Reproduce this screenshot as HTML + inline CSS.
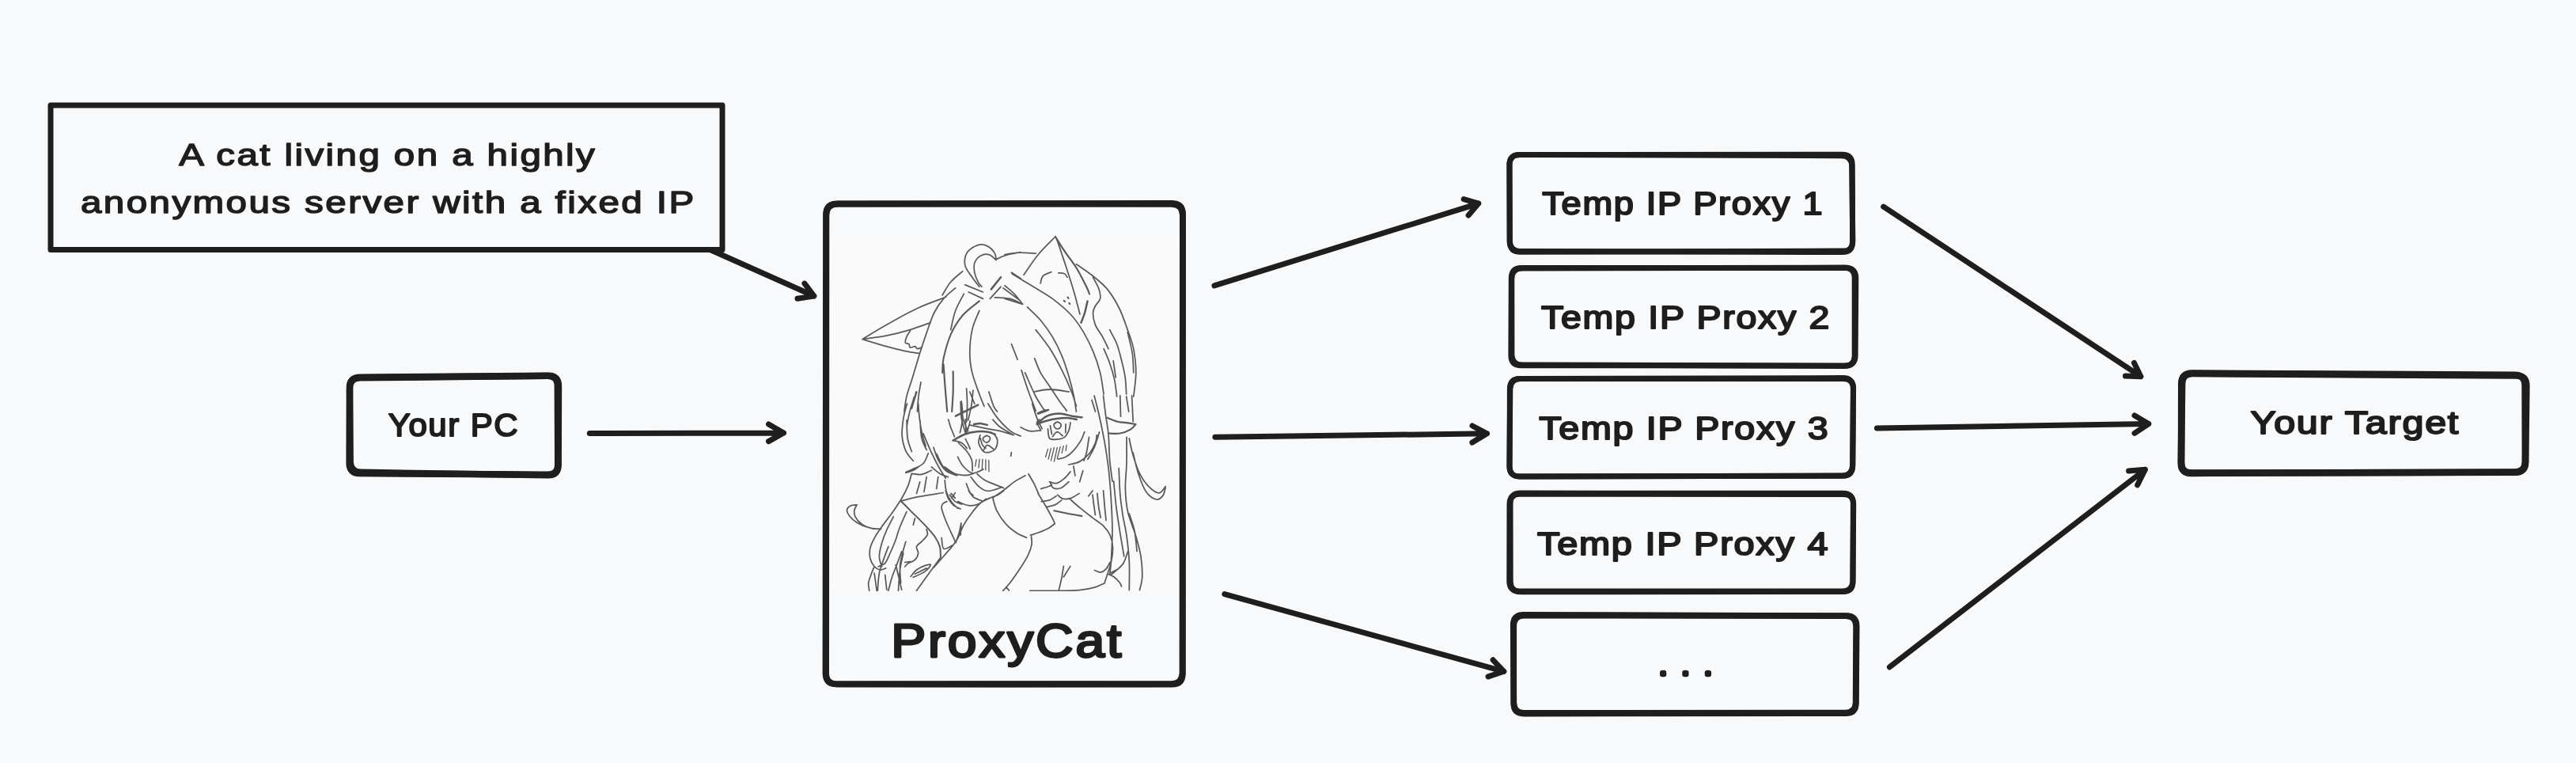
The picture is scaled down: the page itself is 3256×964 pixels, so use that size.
<!DOCTYPE html>
<html lang="en">
<head>
<meta charset="utf-8">
<title>ProxyCat diagram</title>
<style>
html,body{margin:0;padding:0;background:#f8f9fa;overflow:hidden}
svg{display:block;will-change:transform}
text{font-family:"Liberation Sans","DejaVu Sans",sans-serif;fill:#1e1e1e}
</style>
</head>
<body>
<svg width="3256" height="964" viewBox="0 0 3256 964">
<rect x="0" y="0" width="3256" height="964" fill="#f8f9fa"/>
<path d="M64 133L913 133L913 315.5L64 315.5Z" fill="none" stroke="#1e1e1e" stroke-width="7" stroke-linejoin="round"/>
<text x="226.2" y="209.1" font-size="39" font-weight="normal" textLength="528" lengthAdjust="spacingAndGlyphs" letter-spacing="2" stroke="#1e1e1e" stroke-width="1.5" stroke-linejoin="round">A cat living on a highly</text>
<text x="102" y="268.6" font-size="39" font-weight="normal" textLength="777.5" lengthAdjust="spacingAndGlyphs" letter-spacing="2" stroke="#1e1e1e" stroke-width="1.5" stroke-linejoin="round">anonymous server with a fixed IP</text>
<path d="M898.7 316Q963.8 345 1028.9 374M1016.9 358.1L1028.9 374L1008 377.2" fill="none" stroke="#1e1e1e" stroke-width="7" stroke-linejoin="round" stroke-linecap="round"/>
<path d="M441.9 490.4Q442 477.4 455 477.3L691.7 474.9Q704.7 474.8 704.8 487.8L705.2 586.7Q705.3 599.7 692.3 599.6L454.5 598.1Q441.5 598 441.6 585Z" fill="none" stroke="#1e1e1e" stroke-width="8.4" stroke-linejoin="round" stroke-linecap="round"/>
<path d="M442.1 489.8Q442 476.8 455 476.7L693 474.7Q706 474.5 706 487.5L705.7 587.6Q705.7 600.6 692.7 600.4L455.8 596.8Q442.8 596.6 442.7 583.6Z" fill="none" stroke="#1e1e1e" stroke-width="8.4" stroke-linejoin="round" stroke-linecap="round"/>
<text x="490.8" y="551" font-size="41" font-weight="normal" textLength="165.4" lengthAdjust="spacingAndGlyphs" letter-spacing="1.5" stroke="#1e1e1e" stroke-width="2.0" stroke-linejoin="round">Your PC</text>
<path d="M745.3 547.5Q867.9 547.3 990.5 547M971.5 535.9L990.5 547L971.5 557.6" fill="none" stroke="#1e1e1e" stroke-width="7" stroke-linejoin="round" stroke-linecap="round"/>
<rect x="1047" y="296" width="445" height="451" fill="#fafafa"/>
<defs><clipPath id="catclip"><rect x="1047" y="296" width="445" height="451"/></clipPath></defs>
<g fill="none" stroke="#5a5a5a" stroke-linecap="round" stroke-linejoin="round" clip-path="url(#catclip)">
<path stroke-width="1.35" d="M1234.1 580.7 L1232.7 589M1238 580.1 L1237 590.9M1241.9 580.1 L1241.3 592.9M1245.9 580.7 L1245.9 593.9M1249.8 581.5 L1250 595.9M1324.5 567.4 L1321.6 577.2M1328.4 566.4 L1325.1 580.1M1332.4 565.4 L1328.4 582.1M1336.3 565.4 L1332.4 583.1M1340.2 564.4 L1336.3 579.2M1344.2 563.4 L1342.2 572.3M1348.1 562.4 L1347.1 569.3"/>
<path stroke-width="1.76" d="M1237.9 362.3C1236.3 360.3 1231.8 354.8 1228.8 350.3C1225.8 345.8 1220.8 340.5 1219.8 335.2C1218.8 329.9 1220 322.9 1222.8 318.6C1225.5 314.4 1232.1 310.8 1236.3 309.6C1240.6 308.3 1244.9 309.3 1248.4 311.1C1251.9 312.9 1255.7 317.2 1257.4 320.1C1259.2 323.1 1258.7 327.2 1259 328.6M1259 328.6C1257.4 327.4 1253.2 322.6 1249.9 321.7C1246.6 320.7 1242.4 321.4 1239.4 323.2C1236.3 324.9 1233.1 328.7 1231.8 332.2C1230.6 335.7 1231.1 340.2 1231.8 344.3C1232.6 348.3 1234.8 353.3 1236.3 356.3C1237.9 359.3 1240.1 361.3 1240.9 362.3M1195.6 375.3C1189.6 377.7 1172 383.6 1159.5 389.5C1146.9 395.4 1131.8 404 1120.3 410.6C1108.7 417.1 1095.2 425.6 1090.1 428.7M1090.1 428.7C1095.2 430.2 1111.2 435.2 1120.3 437.7C1129.3 440.2 1137.4 442.2 1144.4 443.7C1151.4 445.2 1159.5 446.2 1162.5 446.7M1093.2 428.1C1097.7 427.4 1110.7 426.1 1120.3 424.1C1129.8 422.2 1141.1 419.4 1150.4 416.6C1159.7 413.8 1171.8 409.1 1176.1 407.6M1150.4 418.1C1149.7 419.4 1146.9 423.1 1145.9 425.6C1144.9 428.2 1143.9 431.7 1144.4 433.2C1144.9 434.7 1147.9 433.7 1148.9 434.7C1149.9 435.7 1149.2 438.7 1150.4 439.2C1151.7 439.7 1155 437.5 1156.5 437.7C1158 438 1158.2 440.5 1159.5 440.7C1160.7 441 1163.2 439.5 1164 439.2M1216.7 342.8C1214.2 345 1205.9 351.3 1201.7 356.3C1197.4 361.3 1192.9 370.1 1191.1 372.9M1207.7 363.9C1205.2 366.1 1197.2 372.1 1192.6 377.4C1188.1 382.7 1184.1 388.5 1180.6 395.5C1177.1 402.5 1174.5 411.1 1171.5 419.6C1168.5 428.2 1165.5 437.2 1162.5 446.7C1159.5 456.3 1156.2 467.9 1153.4 476.9C1150.7 485.9 1147.7 493.8 1145.9 501C1144.2 508.2 1143.4 516.8 1142.9 520M1218.3 371.4C1216.5 374.9 1210.5 385 1207.7 392.5C1204.9 400 1202.7 412.6 1201.7 416.6M1237.9 392.5C1236.3 396.5 1230.8 407.6 1228.8 416.6C1226.8 425.6 1225.8 437.7 1225.8 446.7C1225.8 455.8 1226.8 462.3 1228.8 470.9C1230.8 479.4 1235.3 491 1237.9 498C1240.4 505 1242.9 510.6 1243.9 513.1M1219.8 359.9 L1242.4 369M1224.3 369 L1242.4 377.4M1251.4 377.4 L1265 362.3M1257.4 375.9C1260.7 376.2 1271.6 376.2 1277 377.4C1282.5 378.7 1287.8 382.4 1290 383.4M1268 363.9 L1290 380.4M1278.5 344.3 L1290 351.8M1259 327.7C1261 326.8 1265.8 324.1 1271 322.6C1276.2 321 1286.8 319.3 1290 318.6M1164 482.9C1163.5 485.9 1161.7 494.8 1161 501C1160.2 507.2 1159.7 516.8 1159.5 520M1158 495 L1153.4 513.1M1215.2 507 L1216.7 520M1225.8 495 L1231.8 510.1M1249.9 495C1250.9 498 1254.2 508.9 1255.9 513.1C1257.7 517.2 1259.7 518.8 1260.5 520M1278.5 434.7 L1286.1 454.3M1294.1 347.3C1297.1 343 1305.6 329.7 1312.2 321.7C1318.8 313.6 1330.3 302.8 1333.9 299M1335.7 302.1C1337.6 307.6 1343.3 324.2 1346.9 335.2C1350.5 346.3 1354.4 358.1 1357.4 368.4C1360.4 378.7 1363.7 392.2 1365 397M1315.2 357.8C1315.7 356.3 1316 351.1 1318.2 348.8C1320.5 346.4 1327 344.5 1328.8 343.7M1337.8 344.9C1339.1 345 1343.5 344.9 1345.4 345.8C1347.2 346.7 1348.4 349.5 1349 350.3M1270 321.7C1273 321.2 1281.6 319.5 1288.1 319.2C1294.6 319 1305.7 320 1309.2 320.1M1279 345.8C1283.6 348.5 1297.6 357.1 1306.2 362.3C1314.7 367.6 1322.2 371.4 1330.3 377.4C1338.3 383.4 1347.9 391.5 1354.4 398.5C1360.9 405.6 1365 412.1 1369.5 419.6C1374 427.2 1378 435.2 1381.5 443.7C1385.1 452.3 1388.3 461.8 1390.6 470.9C1392.8 479.9 1394.3 493.5 1395.1 498M1298.6 388C1301.4 390.7 1309.9 398.3 1315.2 404.5C1320.5 410.8 1325.8 418.1 1330.3 425.6C1334.8 433.2 1338.8 441.2 1342.3 449.8C1345.9 458.3 1348.9 468.4 1351.4 476.9C1353.9 485.4 1355.9 493.8 1357.4 501C1358.9 508.2 1359.9 516.8 1360.4 520M1270 360.8C1272 362.6 1278.3 367.5 1282.1 371.4C1285.8 375.3 1290.8 382.2 1292.6 384.4M1292.6 384.4 L1270 377.4M1360.4 333.7C1363.9 336.2 1375 343.5 1381.5 348.8C1388.1 354.1 1394.1 358.6 1399.6 365.4C1405.1 372.1 1410.4 380.9 1414.7 389.5C1419 398 1422.2 408.1 1425.2 416.6C1428.3 425.1 1431 431.7 1432.8 440.7C1434.5 449.8 1435.8 460.8 1435.8 470.9C1435.8 480.9 1433.3 496 1432.8 501M1381.5 350.3C1382.8 352.8 1387.6 360.8 1389.1 365.4C1390.6 369.9 1391.3 373.9 1390.6 377.4C1389.8 380.9 1386.1 383.4 1384.5 386.5C1383 389.5 1381.5 391.5 1381.5 395.5C1381.5 399.5 1382.5 405.6 1384.5 410.6C1386.6 415.6 1390.8 420.6 1393.6 425.6C1396.4 430.7 1399.9 438.2 1401.1 440.7M1402.6 416.6C1404.1 419.6 1409.2 428.2 1411.7 434.7C1414.2 441.2 1415.9 448.8 1417.7 455.8C1419.5 462.8 1421.2 469.9 1422.2 476.9C1423.2 483.9 1423.5 494.5 1423.7 498M1425.2 419.6C1426.2 424.1 1430 438.2 1431.3 446.7C1432.5 455.3 1432.5 466.8 1432.8 470.9M1395.1 440.7C1396.4 443.7 1400.4 452.3 1402.6 458.8C1404.9 465.3 1407.2 472.9 1408.7 479.9C1410.2 486.9 1411.2 497.5 1411.7 501M1407.2 455.8 L1410.2 476.9M1309.2 416.6C1312.2 420.6 1321.7 432.2 1327.3 440.7C1332.8 449.3 1337.8 458.8 1342.3 467.9C1346.9 476.9 1351.4 487.4 1354.4 495C1357.4 502.5 1359.4 510.1 1360.4 513.1M1307.7 452.8C1308.9 455.8 1312 464.8 1315.2 470.9C1318.5 476.9 1323.3 482.9 1327.3 489C1331.3 495 1335.8 502 1339.3 507C1342.8 512.1 1346.9 517.1 1348.4 519.1M1291.1 467.9C1292.6 472.4 1297.1 486.4 1300.1 495C1303.2 503.5 1307.7 515.1 1309.2 519.1M1295.6 470.9C1297.9 475.9 1304.9 492.8 1309.2 501C1313.5 509.2 1319.2 516.8 1321.2 520M1306.2 495C1309.7 494.5 1319.7 492 1327.3 492C1334.8 492 1347.4 494.5 1351.4 495M1380 505.5 L1384.5 520M1423.7 501 L1426.7 520M1146.5 510C1145.7 513.1 1142.9 522.1 1141.8 528.9C1140.8 535.7 1139.7 544.1 1140.2 550.9C1140.8 557.7 1142.6 564.5 1145 569.8C1147.3 575 1152.8 580.3 1154.4 582.4M1160.7 510C1160.9 513.1 1161.5 522.6 1162.3 528.9C1163 535.2 1164.1 542 1165.4 547.8C1166.7 553.5 1169.3 560.9 1170.1 563.5M1145 596.5C1146.5 595.8 1150.7 594.3 1154.4 592.4C1158.1 590.6 1163.8 588.8 1167 585.5C1170.1 582.3 1172.2 575 1173.3 572.9M1167 547.8C1168.5 551.4 1173.3 563 1176.4 569.8C1179.6 576.6 1182.7 582.9 1185.9 588.7C1189 594.4 1193.7 601.8 1195.3 604.4M1215.7 510C1216 513.1 1216 523.1 1217.3 528.9C1218.6 534.6 1222.6 542 1223.6 544.6M1248.8 510C1250.9 513.1 1256.6 523.1 1261.4 528.9C1266.1 534.6 1272.3 540.9 1277.1 544.6C1281.9 548.3 1287.8 549.9 1290 550.9M1304.6 510C1305.7 513.1 1308.8 523.6 1310.9 528.9C1313 534.1 1316.1 539.4 1317.2 541.5M1204.6 556.5C1206.4 557 1212.4 557.9 1215.4 559.5C1218.3 561.1 1221.1 565.2 1222.3 566.4M1220.3 554.6C1221 555.9 1223.3 560.3 1224.2 562.4C1225.2 564.6 1225.9 566.5 1226.2 567.4M1239 549.7C1238.7 551.3 1236.4 556.1 1237 559.5C1237.7 562.9 1240.6 568.3 1242.9 570.3C1245.2 572.3 1248.2 571.9 1250.8 571.3C1253.4 570.6 1257 569 1258.6 566.4C1260.3 563.8 1260.9 558.5 1260.6 555.6C1260.3 552.6 1257.3 549.8 1256.7 548.7M1246.8 550.3C1247.5 550.5 1250.1 551.1 1250.8 552C1251.5 552.9 1251.7 554.4 1251.2 555.6C1250.7 556.7 1249 558.6 1247.8 558.9C1246.6 559.2 1244.8 558.4 1243.9 557.5C1243 556.6 1242 554.8 1242.5 553.6C1243 552.4 1246.1 550.8 1246.8 550.3M1242.9 569.3C1243.7 568.2 1245.7 562.8 1247.8 562.4C1250 562.1 1254.4 566.5 1255.7 567.4M1239 553.6C1239.5 555.1 1240.8 560.3 1241.9 562.4C1243.1 564.6 1245.2 565.7 1245.9 566.4M1278.3 571.7 L1277.7 576.2M1324.5 541.8C1324.8 543.8 1324.7 551.4 1326.5 553.6C1328.3 555.8 1332.2 555.3 1335.3 555.2C1338.4 555 1342.5 554.5 1345.1 552.6C1347.8 550.7 1349.7 546.9 1351 543.8C1352.4 540.6 1352.7 535.6 1353 533.9M1330.4 551.6C1331.4 550.6 1334.2 545.9 1336.3 545.7C1338.4 545.6 1342 549.8 1343.2 550.6M1336.3 532.9C1337 533.3 1339.5 533.9 1340.2 534.9C1341 535.9 1341.3 537.7 1340.8 538.8C1340.3 540 1338.5 541.6 1337.3 541.8C1336 542 1334.2 541.2 1333.4 540.2C1332.5 539.2 1331.9 537.1 1332.4 535.9C1332.9 534.7 1335.6 533.4 1336.3 532.9M1327.5 537.9 L1329.4 548.7M1347.1 535.9 L1346.7 546.7M1180 565.4C1181 568 1183.3 576.2 1185.9 581.1C1188.5 586 1191.8 591.6 1195.7 594.9C1199.7 598.2 1207.2 599.8 1209.5 600.8M1183.9 573.3C1185.2 575.9 1188.5 584.7 1191.8 589C1195.1 593.2 1201.6 597.2 1203.6 598.8M1210.5 577.2C1211.6 579.2 1214.2 585.5 1217.4 589C1220.5 592.4 1224.9 597.2 1229.2 597.8C1233.4 598.5 1240.6 593.7 1242.9 592.9M1211.5 559.5C1213.1 561.1 1218.5 565.7 1221.3 569.3C1224.1 572.9 1226.9 576.9 1228.2 581.1C1229.5 585.4 1229 592.6 1229.2 594.9M1227.2 602.7C1228.8 604.7 1233.4 611.6 1237 614.5C1240.6 617.5 1243.9 620.3 1248.8 620.4C1253.7 620.6 1263.6 616.3 1266.5 615.5M1235 598.8C1236.7 600.1 1240.9 604.4 1244.9 606.7C1248.8 609 1254.7 610.9 1258.6 612.6C1262.6 614.2 1266.8 615.9 1268.5 616.5M1225.2 536.9C1229.2 537.7 1242.3 540.5 1248.8 541.8C1255.4 543.1 1259.1 543.4 1264.5 544.7C1269.9 546.1 1278.5 548.8 1281.3 549.7M1254.7 530C1256.3 531.6 1260.1 536.6 1264.5 539.8C1269 543.1 1278.5 548 1281.3 549.7M1290.1 539.8C1292.1 540.6 1297.6 544.1 1301.9 544.7C1306.2 545.4 1313.4 543.9 1315.7 543.8M1315.7 543.8C1314.8 542.1 1311.1 536.2 1310.7 533.9C1310.4 531.6 1313.2 530.7 1313.7 530M1198.7 530C1199.2 531.6 1200.3 536.2 1201.6 539.8C1202.9 543.4 1205.7 549.7 1206.5 551.6M1216.4 530C1216.2 531.3 1215.9 535.1 1215.4 537.9C1214.9 540.6 1213.8 545.2 1213.4 546.7M1220.3 530C1220.5 532.6 1220.6 544.1 1221.3 545.7C1221.9 547.4 1223.4 542.1 1224.2 539.8C1225.1 537.5 1225.9 533.3 1226.2 532M1351 587C1353.3 586.4 1360.5 585.4 1364.8 583.1C1369.1 580.8 1373.3 577.2 1376.6 573.3C1379.9 569.3 1382.8 563.4 1384.5 559.5C1386.1 555.6 1386.1 551.3 1386.4 549.7M1337.3 580.1C1338.9 579.6 1343.8 579 1347.1 577.2C1350.4 575.4 1353.7 572.9 1356.9 569.3C1360.2 565.7 1364.5 559.5 1366.8 555.6C1369.1 551.6 1370.1 547.4 1370.7 545.7M1326.5 608.6C1327.9 609 1332.2 611.3 1335.3 610.6C1338.4 610 1342.2 607.2 1345.1 604.7C1348.1 602.3 1351.7 597.3 1353 595.9M1327.5 609.6C1328.1 610.8 1329.1 615.4 1331.4 616.5C1333.7 617.7 1337.9 617.8 1341.2 616.5C1344.5 615.2 1349.4 610 1351 608.6M1356.9 589 L1358.9 600.8M1368.7 594.9 L1364.8 608.6M1255.7 628.3C1257.8 626.8 1264 622.7 1268.5 619.5C1272.9 616.2 1277.6 611.8 1282.2 608.6C1286.8 605.5 1293.7 602.1 1296 600.8M1299.9 598.8C1301.2 601.1 1305.5 608 1307.8 612.6C1310.1 617.2 1312.7 624 1313.7 626.3M1315.7 617.5C1317.3 617 1323.2 615.4 1325.5 614.5C1327.8 613.7 1328.8 612.9 1329.4 612.6M1383.1 500C1384.2 504.4 1387.5 516.4 1389.6 526.2C1391.8 536 1394.3 548 1396.2 558.9C1398.1 569.9 1399.7 579.7 1401.1 591.7C1402.5 603.7 1403.6 617.9 1404.4 631C1405.2 644.1 1406 657.2 1406 670.3C1406 683.4 1404.9 700.3 1404.4 709.6C1403.8 718.8 1403 723.2 1402.7 725.9M1394.6 500C1395.1 504.4 1396.7 518 1397.8 526.2C1398.9 534.4 1400.3 539.8 1401.1 549.1C1401.9 558.4 1401.9 572 1402.7 581.9C1403.6 591.7 1405.5 603.7 1406 608.1M1415.8 500 L1416.5 526.2M1430.6 500 L1432.2 532.7M1424 552.4C1424 557.9 1424.3 574.2 1424 585.1C1423.8 596.1 1422.1 607.5 1422.4 617.9C1422.7 628.3 1423.5 637.5 1425.7 647.4C1427.9 657.2 1432.8 667.5 1435.5 676.8C1438.2 686.1 1440.7 694.3 1442 703C1443.4 711.8 1444 722.1 1443.7 729.2C1443.4 736.3 1440.9 742.9 1440.4 745.6M1427.3 554C1428.1 557.6 1430 567.9 1432.2 575.3C1434.4 582.7 1437.1 591.7 1440.4 598.2C1443.7 604.8 1447.8 610.5 1451.9 614.6C1456 618.7 1461.4 622.8 1465 622.8C1468.5 622.8 1471.8 616 1473.1 614.6M1432.2 572C1433.3 576.4 1436 590.1 1438.8 598.2C1441.5 606.4 1444.8 615.7 1448.6 621.2C1452.4 626.6 1458.1 630.2 1461.7 631C1465.2 631.8 1468 628.5 1469.9 626.1C1471.8 623.6 1472.6 617.9 1473.1 616.2M1414.2 591.7C1414.5 597.1 1415 614.6 1415.8 624.4C1416.7 634.3 1417.8 641.9 1419.1 650.6C1420.5 659.4 1422.7 667 1424 676.8C1425.4 686.6 1426.8 698.1 1427.3 709.6C1427.9 721 1427.3 739.6 1427.3 745.6M1407.7 608.1C1408.2 613.5 1409.6 629.9 1410.9 640.8C1412.3 651.7 1414.2 663.2 1415.8 673.6C1417.5 683.9 1419.9 698.1 1420.8 703M1376.5 552.4C1376 555.7 1374.4 567.1 1373.3 572C1372.2 577 1370.5 580.2 1370 581.9M1389.6 545.8C1388.6 549.1 1385.6 559.8 1383.1 565.5C1380.6 571.2 1376.3 577.8 1374.9 580.2M1404.4 725.9C1406.8 723.8 1415.6 717.8 1419.1 712.8C1422.7 707.9 1424.6 699.2 1425.7 696.5M1427.3 649C1428.4 652.5 1432.2 662.4 1433.9 670.3C1435.5 678.2 1436.6 692.1 1437.1 696.5M1113.5 668.6C1110.8 668.3 1102.8 667.9 1097.7 666.5C1092.7 665.1 1087.1 662.7 1083.1 660.2C1079 657.8 1075.7 654.5 1073.6 651.8C1071.5 649.2 1070.3 646.6 1070.5 644.5C1070.7 642.4 1072.6 640.4 1074.7 639.3C1076.8 638.1 1081.7 638 1083.1 637.8M1083.1 637.8C1082.5 638.9 1080.3 642 1079.9 644.5C1079.6 647 1079.4 649.9 1081 652.9C1082.5 655.9 1085.9 659.9 1089.3 662.3C1092.8 664.8 1097.9 666.6 1101.9 667.6C1105.9 668.5 1111.5 667.9 1113.5 668M1152.2 598.4C1151.5 600.8 1150.1 607.8 1148 613.1C1145.9 618.3 1143.1 623.9 1139.7 629.8C1136.2 635.8 1131.3 642.8 1127.1 648.7C1122.9 654.6 1118.2 660.2 1114.5 665.5C1110.8 670.7 1107.5 675.6 1105.1 680.1C1102.6 684.7 1100.7 688.5 1099.8 692.7C1099 696.9 1099 701.4 1099.8 705.3C1100.7 709.1 1103 713.3 1105.1 715.8C1107.2 718.2 1110 719.6 1112.4 720C1114.8 720.3 1118.5 718.2 1119.7 717.9M1105.1 715.8C1104.4 717.5 1102.1 722.8 1100.9 726.3C1099.7 729.7 1098.1 733.4 1097.7 736.7C1097.4 740.1 1098.6 744.6 1098.8 746.2M1138.6 633C1142.3 632.1 1151.7 629.5 1160.6 627.7C1169.5 626 1186.8 623.4 1192.1 622.5M1171.1 668.6C1171.3 669.8 1173.2 673.3 1172.1 675.9C1171.1 678.6 1167.1 681.9 1164.8 684.3C1162.5 686.8 1159.2 688.2 1158.5 690.6C1157.8 693.1 1161 696.2 1160.6 699C1160.3 701.8 1158.5 705.3 1156.4 707.4C1154.3 709.5 1150.1 710.2 1148 711.6C1145.9 713 1144.5 715.1 1143.8 715.8M1188.9 704.2C1187 706.9 1181.1 714.9 1177.4 720C1173.7 725 1170 730.3 1166.9 734.6C1163.8 739 1159.9 744.2 1158.5 746.2M1151.2 728.3C1152.4 727 1155.6 722.2 1158.5 720C1161.5 717.7 1166 715.8 1169 714.7C1172 713.7 1176.3 712.5 1176.3 713.7C1176.3 714.9 1172.7 719.4 1169 722.1C1165.3 724.7 1156.8 728.2 1154.3 729.4M1156.4 725.2 L1171.1 717.9M1129.2 652.9C1127.8 655.7 1123.2 664.1 1120.8 669.7C1118.3 675.2 1116.1 680.8 1114.5 686.4C1112.9 692 1111.4 698.3 1111.4 703.2C1111.4 708.1 1114 713.7 1114.5 715.8M1145.9 646.6C1144.5 649.7 1140 659.2 1137.6 665.5C1135.1 671.8 1133.4 678.7 1131.3 684.3C1129.2 689.9 1127.1 694.5 1125 699C1122.9 703.5 1121.1 708.8 1118.7 711.6C1116.2 714.4 1111.7 715.1 1110.3 715.8M1122.9 690.6C1121.8 693.4 1118.5 701.8 1116.6 707.4C1114.7 713 1112.6 717.7 1111.4 724.2C1110.1 730.6 1109.6 742.5 1109.3 746.2M1139.7 696.9C1138.6 699.7 1135.5 708.1 1133.4 713.7C1131.3 719.3 1128.8 725 1127.1 730.4C1125.3 735.9 1123.6 743.5 1122.9 746.2M1141.8 699C1141.1 702.5 1138.6 712.1 1137.6 720C1136.5 727.8 1135.8 741.8 1135.5 746.2M1144.9 684.3C1144.2 686.8 1141.9 693.8 1140.7 699C1139.5 704.2 1137.9 709.5 1137.6 715.8C1137.2 722.1 1138.4 733.2 1138.6 736.7M1132.3 713.7 L1139.7 745.1M1143.8 710.5 L1150.1 709.5M1105.1 724.2 L1108.2 746.2M1118.7 726.3 L1120.8 745.1M1162.7 608.9 L1158.5 623.5M1171.1 602.6 L1168 621.4M1185.8 602.6 L1183.7 617.3M1194.2 606.8C1194.5 609.2 1194.9 616.9 1196.3 621.4C1197.6 626 1200.1 630.5 1202.5 634C1205 637.5 1209.5 641 1210.9 642.4M1144.9 597.3C1146.5 596.8 1151.7 595.4 1154.3 594.2C1156.9 593 1159.6 590.7 1160.6 590M1152.2 598.4C1154.3 598.6 1160.6 600.1 1164.8 599.4C1169 598.7 1175.3 595.1 1177.4 594.2M1177.4 590C1179.1 591.4 1184.4 596.3 1187.9 598.4C1191.4 600.5 1196.6 601.9 1198.3 602.6M1194.2 590C1196.3 591.4 1202.2 596.6 1206.7 598.4C1211.3 600.1 1217.5 600.5 1221.4 600.5C1225.3 600.5 1228.6 598.7 1230 598.4M1221.4 611C1222.1 612.7 1224.2 619 1225.6 621.4C1227 623.9 1229.3 624.9 1230 625.6M1156.4 655 L1154.3 663.4M1268.6 620C1267.4 620.9 1264 623.8 1261.8 625.1C1259.5 626.4 1258.6 626 1254.9 627.7C1251.3 629.4 1244.2 631.8 1239.6 635.3C1235.1 638.9 1231.4 644.1 1227.7 649C1224 653.8 1220.6 658.6 1217.5 664.3C1214.4 670 1212.9 676.8 1209 683C1205 689.3 1198.5 696.1 1193.6 701.8C1188.8 707.4 1182.3 714.5 1180 717.1M1254.9 629.4C1255.8 632.1 1257.2 640 1260.1 645.6C1262.9 651.1 1267.7 657.9 1272 662.6C1276.2 667.3 1281.3 670.9 1285.6 673.7C1289.9 676.4 1295.5 678.3 1297.5 679.3M1312 623.4C1313.6 626 1318.4 633.6 1321.4 638.7C1324.4 643.8 1327.9 650.2 1329.9 654.1C1331.9 657.9 1332.7 660.5 1333.3 661.7M1333.3 661.7C1331.9 662.7 1328.2 665.8 1324.8 667.7C1321.4 669.5 1316.6 671.4 1312.9 672.8C1309.2 674.2 1304.3 675.6 1302.6 676.2M1303.5 677.9C1303.6 679.6 1304.7 684.2 1304 688.1C1303.3 692.1 1301.7 696.7 1299.2 701.8C1296.7 706.9 1292.7 713.1 1289 718.8C1285.3 724.5 1280.6 731.2 1277.1 735.8C1273.5 740.4 1269.3 744.6 1267.7 746.4M1272 741.8 L1275.4 746M1316.3 633.6C1318 633.3 1323.4 633.1 1326.5 631.9C1329.6 630.8 1333.6 627.7 1335 626.8M1323.1 640.4C1324.8 640 1330.2 639.3 1333.3 637.9C1336.4 636.5 1340.4 632.9 1341.8 631.9M1352 630.2C1354.3 632.2 1360.8 638.2 1365.7 642.1C1370.5 646.1 1376.2 650.4 1381 654.1C1385.8 657.8 1390.9 660.6 1394.6 664.3C1398.3 668 1401.1 671.7 1403.1 676.2C1405.1 680.8 1406.3 686.1 1406.5 691.5C1406.8 696.9 1406 702.9 1404.8 708.6C1403.7 714.3 1401.1 721.1 1399.7 725.6C1398.3 730.1 1396.9 734.1 1396.3 735.8M1336.7 625.1C1337.8 626 1340.7 629.5 1343.5 630.2C1346.4 630.9 1350.3 630.5 1353.7 629.4C1357.1 628.2 1362.3 624.4 1364 623.4M1375.9 626.8 L1381 620M1338.4 745.2C1339 742.8 1340.8 735.7 1341.8 730.7C1342.8 725.7 1343.9 717.9 1344.4 715.4M1344.4 729 L1352.9 715.4M1301.8 746.4C1307 746.4 1322.9 746.5 1333.3 746.4C1343.7 746.3 1355.4 746.5 1364 745.7C1372.5 744.9 1379 743.3 1384.4 741.8C1389.8 740.3 1394.3 737.5 1396.3 736.7M1383.5 720.5C1384.8 720.9 1388.8 723.3 1391.2 723.1C1393.6 722.8 1396 720.9 1398 718.8C1400 716.7 1402.3 711.7 1403.1 710.3M1401.4 725.6C1402.6 726.2 1406 727.3 1408.2 729C1410.5 730.7 1413.5 733.8 1415.1 735.8C1416.6 737.8 1417.2 740.1 1417.6 740.9M1403.1 723.9C1404.8 723.1 1410.5 720.8 1413.4 718.8C1416.2 716.8 1418.9 713.1 1420 712M1197 633.6C1196.2 634.1 1193.1 634.8 1191.9 636.2C1190.8 637.6 1189.7 638.6 1190.2 642.1C1190.8 645.7 1193.3 652.4 1195.3 657.5C1197.3 662.6 1200 668.1 1202.1 672.8C1204.3 677.5 1207.1 683.4 1208.1 685.6M1208.1 685.6C1208.8 683.4 1211.2 676.9 1212.4 672.8C1213.5 668.7 1214.5 662.9 1214.9 660.9M1214.1 676.2 L1214.9 662.6M1195.3 620C1195.9 621.7 1197 627.1 1198.7 630.2C1200.4 633.3 1203 636.6 1205.6 638.7C1208.1 640.9 1212.6 642.3 1214.1 643M1200.4 625.1C1201.6 626.5 1204.7 631.6 1207.3 633.6C1209.8 635.6 1214.4 636.5 1215.8 637M1224.3 620C1225.4 621.4 1228.3 626.4 1231.1 628.5C1233.9 630.6 1239.6 632.1 1241.3 632.8M1210.7 633.6C1212.9 634.5 1220 638.2 1224.3 638.7C1228.5 639.3 1232.5 638.5 1236.2 637C1239.9 635.6 1244.7 631.4 1246.4 630.2M1202.1 623.4 L1207.3 629.4M1207.3 622.6 L1203 629.4M1190.2 679.6C1190.6 681.9 1190.5 691.7 1192.8 693.2C1195 694.8 1202 689.7 1203.8 689M1381 625.1C1381.3 627.4 1382.1 634.5 1382.7 638.7C1383.3 643 1384.1 648.7 1384.4 650.7M1387 623.4C1387.2 626.2 1387.9 635.3 1388.7 640.4C1389.4 645.6 1390.8 651.8 1391.2 654.1M1394.6 620C1394.9 623.4 1395.8 634.2 1396.3 640.4C1396.9 646.7 1397.7 654.6 1398 657.5M1155.5 501.4C1154.5 504.9 1150.8 516.1 1149.3 522.4C1147.7 528.7 1146.6 536.4 1146.1 539.2M1158.7 495.2 L1152.4 516.1M1146.1 530.8C1146.3 534.6 1146.1 547.2 1147.2 553.8C1148.2 560.5 1151.5 567.8 1152.4 570.6M1162.9 530.8C1163.2 534.6 1163.6 547.6 1165 553.8C1166.4 560.1 1170.2 566.1 1171.3 568.5M1214.2 507.7C1214.4 511.2 1214.2 522.1 1215.3 528.7C1216.3 535.3 1219.7 544.4 1220.5 547.6M1221.6 491C1221.8 494.5 1222.6 504.9 1222.6 511.9C1222.6 518.9 1221.8 529.4 1221.6 532.9M1230 493.1C1229.6 496.2 1228.9 505.6 1227.9 511.9C1226.8 518.2 1224.4 527.6 1223.7 530.8"/>
<path stroke-width="2.03" d="M1237.9 380.4C1234.3 383.4 1222.8 391.5 1216.7 398.5C1210.7 405.6 1205.7 413.6 1201.7 422.6C1197.7 431.7 1194.4 444.7 1192.6 452.8C1190.9 460.8 1191.4 467.9 1191.1 470.9M1138.6 633C1140.9 635.2 1147.2 641.5 1152.2 646.6C1157.3 651.7 1164.1 658.1 1169 663.4C1173.9 668.6 1178.4 673.5 1181.6 678C1184.7 682.6 1186.6 686.4 1187.9 690.6C1189.1 694.8 1188.7 701.1 1188.9 703.2"/>
<path stroke-width="2.16" d="M1192.6 460.3C1192.9 464.1 1193.4 473 1194.1 482.9C1194.9 492.9 1196.7 513.8 1197.2 520M1204.7 469.4C1204.7 473.6 1204.9 486.5 1204.7 495C1204.4 503.4 1203.4 515.8 1203.2 520M1333.9 299C1335.8 302.1 1340.9 310.6 1345.4 317.1C1349.8 323.7 1355.9 330.9 1360.4 338.2C1365 345.5 1369.7 355.3 1372.5 360.8C1375.3 366.4 1376.3 369.6 1377 371.4M1344.8 379.8 L1346 381M1349.6 375.6 L1350.5 376.8M1351.4 382.8 L1352.3 384M1399.5 527.8C1401.7 528.7 1408.2 531.7 1412.6 532.7C1416.9 533.8 1421.8 533.8 1425.7 534.4C1429.5 534.9 1433.9 535.7 1435.5 536M1401.1 547.5C1403.6 547.5 1411.2 548.3 1415.8 547.5C1420.5 546.7 1425.7 544.5 1428.9 542.6C1432.2 540.7 1434.4 537.1 1435.5 536M1332.4 645.2C1335.4 645.8 1344.5 647.8 1350.3 649C1356.2 650.1 1364.5 651.5 1367.4 652"/>
<path stroke-width="2.5" d="M1207.9 525.7 L1236.2 511.6"/>
<path stroke-width="2.5" d="M1252.9 365.4 L1265 350.3M1310.9 535.2C1313 533.6 1318.8 527.8 1323.5 525.7C1328.2 523.6 1334 522.6 1339.2 522.6C1344.5 522.6 1350.2 524.9 1355 525.7C1359.7 526.5 1365.4 527 1367.5 527.3M1231.1 535.9C1232.4 535.7 1236.2 534.8 1239 534.9C1241.8 535.1 1246.4 536.6 1247.8 536.9"/>
<path stroke-width="2.5" d="M1312.5 522.6 L1325.1 517.9M1204.6 556.5C1207 555.2 1214.2 550.5 1219.3 548.7C1224.4 546.8 1230.1 545.8 1235 545.3C1240 544.8 1245 545.2 1248.8 545.7C1252.6 546.3 1256.2 548.2 1257.7 548.7M1310.7 535.9C1312.5 535.2 1317.5 533.1 1321.6 532C1325.7 530.8 1330.7 529.7 1335.3 529C1339.9 528.4 1344.8 527.9 1349.1 528C1353.3 528.2 1358.9 529.7 1360.9 530M1311.7 522.1 L1321.6 518.2"/>
<path stroke-width="2.5" d="M1374.6 380.4C1374 382.9 1372.3 391 1371 395.5C1369.6 400 1367.2 405.6 1366.5 407.6"/>
</g>
<path d="M1044.1 271.6Q1044.1 257.6 1058.1 257.6L1480.9 257.8Q1494.9 257.8 1494.9 271.8L1494.8 850.7Q1494.8 864.7 1480.8 864.7L1057.5 864.3Q1043.5 864.3 1043.5 850.3Z" fill="none" stroke="#1e1e1e" stroke-width="7.8" stroke-linejoin="round" stroke-linecap="round"/>
<path d="M1044.4 271.5Q1044.4 257.5 1058.4 257.5L1481 257Q1495 257 1495 271L1494.6 850Q1494.6 864 1480.6 864.1L1058 864.4Q1044 864.4 1044.1 850.4Z" fill="none" stroke="#1e1e1e" stroke-width="7.8" stroke-linejoin="round" stroke-linecap="round"/>
<text x="1126.2" y="830" font-size="58.5" font-weight="normal" textLength="294" lengthAdjust="spacingAndGlyphs" letter-spacing="2.5" stroke="#1e1e1e" stroke-width="2.8" stroke-linejoin="round">ProxyCat</text>
<path d="M1534.9 360.9Q1701.9 309 1868.8 257.1M1850.1 251.7L1868.8 257.1L1856.1 272.1" fill="none" stroke="#1e1e1e" stroke-width="7" stroke-linejoin="round" stroke-linecap="round"/>
<path d="M1535.9 552.3Q1707.7 550.1 1879.5 547.8M1861 538L1879.5 547.8L1860.9 559.1" fill="none" stroke="#1e1e1e" stroke-width="7" stroke-linejoin="round" stroke-linecap="round"/>
<path d="M1547.8 750.6Q1724.4 799.5 1900.9 848.3M1887.1 833.8L1900.9 848.3L1881 854.9" fill="none" stroke="#1e1e1e" stroke-width="7" stroke-linejoin="round" stroke-linecap="round"/>
<path d="M1908 208.7Q1907.9 195.7 1920.9 195.6L2328.2 195.2Q2341.2 195.2 2341.2 208.2L2341.6 305.6Q2341.6 318.6 2328.6 318.6L1921.1 317.4Q1908.1 317.3 1908.1 304.3Z" fill="none" stroke="#1e1e1e" stroke-width="7" stroke-linejoin="round" stroke-linecap="round"/>
<path d="M1907.9 208.5Q1907.8 195.5 1920.8 195.5L2327.5 196.7Q2340.5 196.7 2340.7 209.7L2341.8 304.1Q2342 317.1 2329 317.1L1921.5 318.2Q1908.5 318.2 1908.4 305.2Z" fill="none" stroke="#1e1e1e" stroke-width="7" stroke-linejoin="round" stroke-linecap="round"/>
<text x="1949.3" y="270.6" font-size="40" font-weight="normal" textLength="355.9" lengthAdjust="spacingAndGlyphs" letter-spacing="1.5" stroke="#1e1e1e" stroke-width="2.0" stroke-linejoin="round">Temp IP Proxy 1</text>
<path d="M1910.3 351.6Q1910.4 338.6 1923.4 338.6L2332.8 338.4Q2345.8 338.4 2345.8 351.4L2345.1 449Q2345 462 2332 462L1922.9 461.8Q1909.9 461.8 1909.9 448.8Z" fill="none" stroke="#1e1e1e" stroke-width="7" stroke-linejoin="round" stroke-linecap="round"/>
<path d="M1910.8 352.1Q1910.8 339.1 1923.8 339.1L2331.2 338.1Q2344.2 338.1 2344.2 351.1L2344.2 449.4Q2344.2 462.4 2331.2 462.4L1923.9 460.9Q1910.9 460.9 1910.9 447.9Z" fill="none" stroke="#1e1e1e" stroke-width="7" stroke-linejoin="round" stroke-linecap="round"/>
<text x="1948" y="414.8" font-size="40" font-weight="normal" textLength="366.2" lengthAdjust="spacingAndGlyphs" letter-spacing="1.5" stroke="#1e1e1e" stroke-width="2.0" stroke-linejoin="round">Temp IP Proxy 2</text>
<path d="M1908.4 491.6Q1908.4 478.6 1921.4 478.6L2329.7 477.6Q2342.7 477.6 2342.6 490.6L2341.6 588.1Q2341.4 601 2328.4 601.1L1921 601.9Q1908 601.9 1908.1 588.9Z" fill="none" stroke="#1e1e1e" stroke-width="7" stroke-linejoin="round" stroke-linecap="round"/>
<path d="M1908.8 491.5Q1908.9 478.5 1921.9 478.5L2329.5 478.6Q2342.5 478.6 2342.4 491.6L2341.8 588.2Q2341.7 601.2 2328.7 601.2L1920.8 602.1Q1907.8 602.1 1907.9 589.1Z" fill="none" stroke="#1e1e1e" stroke-width="7" stroke-linejoin="round" stroke-linecap="round"/>
<text x="1945.2" y="554.5" font-size="40" font-weight="normal" textLength="367.3" lengthAdjust="spacingAndGlyphs" letter-spacing="1.5" stroke="#1e1e1e" stroke-width="2.0" stroke-linejoin="round">Temp IP Proxy 3</text>
<path d="M1908 637.2Q1908 624.2 1921 624.2L2329.8 624.5Q2342.8 624.5 2342.7 637.5L2341.9 734.1Q2341.8 747.1 2328.8 747.1L1920.8 747.1Q1907.8 747.1 1907.8 734.1Z" fill="none" stroke="#1e1e1e" stroke-width="7" stroke-linejoin="round" stroke-linecap="round"/>
<path d="M1909 636.1Q1909 623.1 1922 623.1L2329.5 623.2Q2342.5 623.2 2342.4 636.2L2342 734.5Q2342 747.5 2329 747.5L1922.2 747.8Q1909.2 747.8 1909.2 734.8Z" fill="none" stroke="#1e1e1e" stroke-width="7" stroke-linejoin="round" stroke-linecap="round"/>
<text x="1943" y="700.7" font-size="40" font-weight="normal" textLength="369.3" lengthAdjust="spacingAndGlyphs" letter-spacing="1.5" stroke="#1e1e1e" stroke-width="2.0" stroke-linejoin="round">Temp IP Proxy 4</text>
<path d="M1913.3 790.7Q1913.3 777.7 1926.3 777.7L2333.8 778.1Q2346.8 778.1 2346.7 791.1L2345.9 888.2Q2345.8 901.2 2332.8 901.2L1926.3 901.6Q1913.3 901.6 1913.3 888.6Z" fill="none" stroke="#1e1e1e" stroke-width="7.6" stroke-linejoin="round" stroke-linecap="round"/>
<path d="M1912.7 789.6Q1912.6 776.6 1925.6 776.7L2333.1 778.2Q2346.1 778.3 2346.1 791.3L2345.6 887.5Q2345.5 900.5 2332.5 900.5L1926.4 900.8Q1913.4 900.8 1913.3 887.8Z" fill="none" stroke="#1e1e1e" stroke-width="7.6" stroke-linejoin="round" stroke-linecap="round"/>
<text x="2100.5" y="851.6" font-size="12" font-weight="bold" letter-spacing="25" stroke="#1e1e1e" stroke-width="6.6" stroke-linejoin="round">...</text>
<path d="M2380.7 261.2Q2543.3 368.5 2705.9 475.7M2697.5 458.5L2705.9 475.7L2686.5 475.1" fill="none" stroke="#1e1e1e" stroke-width="7" stroke-linejoin="round" stroke-linecap="round"/>
<path d="M2372.4 540.9Q2544.1 538.2 2715.8 535.5M2698 525L2715.8 535.5L2698 547.3" fill="none" stroke="#1e1e1e" stroke-width="7" stroke-linejoin="round" stroke-linecap="round"/>
<path d="M2388.4 842.8Q2549.9 718 2711.4 593.3M2690.6 594.9L2711.4 593.3L2701.7 612.8" fill="none" stroke="#1e1e1e" stroke-width="7" stroke-linejoin="round" stroke-linecap="round"/>
<path d="M2757.3 484.6Q2757.4 471.6 2770.4 471.6L3178.6 473.8Q3191.6 473.9 3191.6 486.9L3191.9 583.8Q3191.9 596.8 3178.9 596.8L2770.1 597.6Q2757.1 597.6 2757.1 584.6Z" fill="none" stroke="#1e1e1e" stroke-width="8.6" stroke-linejoin="round" stroke-linecap="round"/>
<path d="M2758.1 484.9Q2758.3 471.9 2771.3 472L3180.5 474.5Q3193.5 474.6 3193.3 487.6L3192.1 583.4Q3192 596.4 3179 596.5L2769.6 597.9Q2756.6 598 2756.8 585Z" fill="none" stroke="#1e1e1e" stroke-width="8.6" stroke-linejoin="round" stroke-linecap="round"/>
<text x="2844.5" y="547.8" font-size="40" font-weight="normal" textLength="264.6" lengthAdjust="spacingAndGlyphs" letter-spacing="1.5" stroke="#1e1e1e" stroke-width="2.0" stroke-linejoin="round">Your Target</text>
</svg>
</body>
</html>
